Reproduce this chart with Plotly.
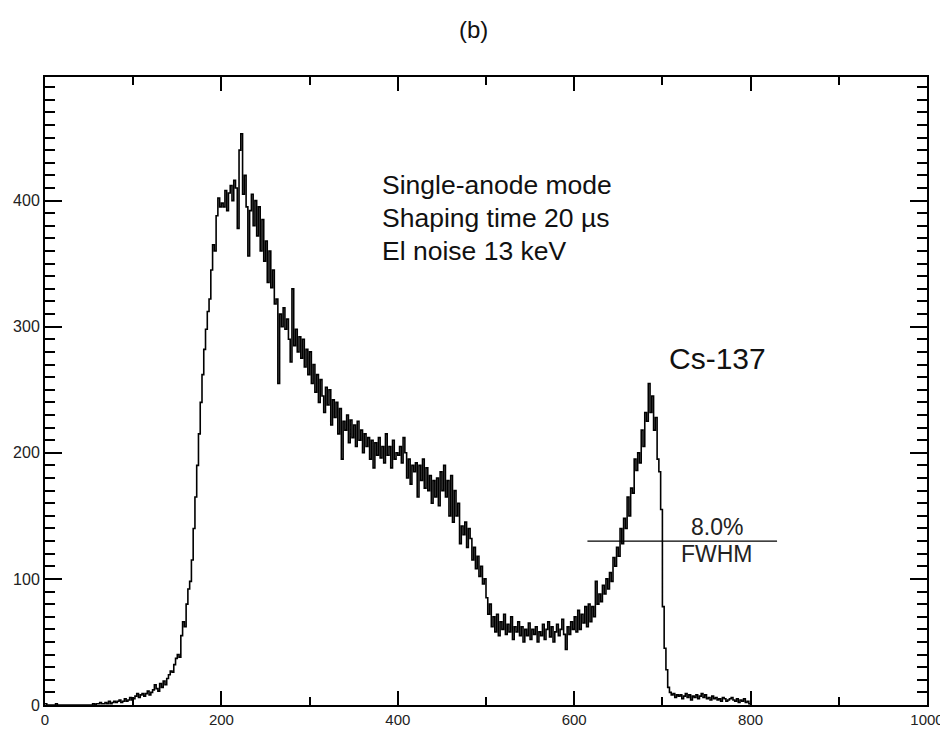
import plotly.graph_objects as go

# Bin left edges (channel), bin width 2
bin_start = 0
bin_width = 2
counts = [
    1, 0, 0, 0, 0, 0, 1, 0, 0, 0,            # 0-18
    0, 0, 0, 0, 0, 0, 0, 0, 0, 0,            # 20-38
    0, 0, 0, 0, 0, 0, 0, 1, 0, 1,            # 40-58
    1, 2, 1, 1, 2, 1, 3, 1, 2, 3,            # 60-78
    2, 3, 4, 2, 3, 5, 3, 4, 6, 4,            # 80-98
    5, 7, 9, 6, 8, 9, 7, 9, 11, 8,           # 100-118
    10, 12, 16, 13, 11, 17, 14, 19, 16, 21,  # 120-138
    24, 27, 26, 32, 37, 40, 38, 55, 66, 62,  # 140-158
    80, 92, 98, 115, 140, 165, 190, 215, 240, 262,   # 160-178
    282, 298, 312, 322, 345, 365, 360, 388, 402, 395,  # 180-198
    398, 395, 408, 392, 406, 412, 400, 416, 410, 378,  # 200-218
    440, 453, 405, 420, 395, 356, 392, 405, 380, 400,  # 220-238
    372, 395, 360, 385, 352, 368, 335, 360, 331, 345,  # 240-258
    318, 322, 255, 310, 300, 315, 298, 306, 290, 272,  # 260-278
    330, 285, 298, 280, 292, 275, 290, 268, 282, 262,  # 280-298
    280, 255, 270, 248, 262, 240, 258, 245, 232, 252,  # 300-318
    238, 250, 222, 242, 228, 240, 215, 235, 195, 225,  # 320-338
    218, 230, 208, 226, 212, 222, 205, 225, 210, 218,  # 340-358
    200, 215, 205, 212, 195, 210, 188, 208, 198, 212,  # 360-378
    196, 205, 192, 215, 198, 205, 188, 210, 195, 200,  # 380-398
    198, 205, 192, 212, 200, 180, 195, 175, 190, 185,  # 400-418
    192, 165, 190, 178, 195, 172, 188, 170, 182, 160,  # 420-438
    178, 165, 180, 158, 185, 170, 190, 165, 178, 150,  # 440-458
    182, 145, 170, 150, 160, 128, 142, 135, 145, 125,  # 460-478
    140, 132, 115, 125, 108, 118, 102, 110, 96, 100,   # 480-498
    85, 72, 80, 62, 70, 58, 72, 55, 66, 60,            # 500-518
    72, 56, 64, 58, 70, 52, 62, 58, 66, 55,            # 520-538
    62, 50, 60, 55, 65, 52, 60, 56, 62, 50,            # 540-558
    58, 55, 64, 52, 60, 66, 54, 62, 50, 58,            # 560-578
    64, 55, 60, 68, 56, 44, 62, 56, 66, 60,            # 580-598
    70, 58, 75, 60, 72, 65, 78, 62, 80, 66,            # 600-618
    78, 70, 98, 80, 88, 82, 95, 88, 100, 92,           # 620-638
    105, 98, 117, 110, 125, 118, 140, 128, 148, 140,   # 640-658
    165, 150, 172, 168, 195, 186, 200, 192, 218, 205,  # 660-678
    232, 225, 255, 232, 245, 218, 228, 195, 185, 155,  # 680-698
    78, 45, 28, 14, 10, 8, 9, 6, 8, 7,                 # 700-718
    8, 5, 7, 9, 6, 8, 4, 7, 6, 8,                      # 720-738
    5, 7, 9, 6, 8, 5, 6, 4, 7, 5,                      # 740-758
    6, 4, 5, 3, 6, 5, 3, 4, 5, 6,                      # 760-778
    4, 3, 5, 2, 4, 3, 5, 2, 3, 1,                      # 780-798
    0,                                                  # 800
]
channels = [bin_start + i * bin_width for i in range(len(counts))]

x_ticks = [0, 200, 400, 600, 800, 1000]
y_ticks = [0, 100, 200, 300, 400]

fwhm_x = [615, 830]
fwhm_y = [130, 130]

info_lines = ["Single-anode mode", "Shaping time 20 \u00b5s", "El noise 13 keV"]
info_y = [412, 386, 360]

FONT = "Liberation Sans, Arial, sans-serif"

fig = go.Figure()
fig.add_trace(go.Scatter(
    x=channels, y=counts, mode="lines", line_shape="hv",
    line=dict(color="black", width=1.6), showlegend=False, hoverinfo="skip",
))
fig.add_trace(go.Scatter(
    x=fwhm_x, y=fwhm_y, mode="lines",
    line=dict(color="black", width=1.2), showlegend=False, hoverinfo="skip",
))

for txt, yy in zip(info_lines, info_y):
    fig.add_annotation(x=380, y=yy, text=txt, showarrow=False, xanchor="left",
                       yanchor="middle", font=dict(family=FONT, size=26.5, color="#111"))

fig.add_annotation(x=705, y=275, text="Cs-137", showarrow=False, xanchor="left",
                   yanchor="middle", font=dict(family=FONT, size=30, color="#111"))
fig.add_annotation(x=762, y=141, text="8.0%", showarrow=False, xanchor="center",
                   yanchor="middle", font=dict(family=FONT, size=23, color="#222"))
fig.add_annotation(x=762, y=120, text="FWHM", showarrow=False, xanchor="center",
                   yanchor="middle", font=dict(family=FONT, size=23, color="#222"))
fig.add_annotation(x=0.486, y=1.075, xref="paper", yref="paper", text="(b)",
                   showarrow=False, xanchor="center", yanchor="middle",
                   font=dict(family=FONT, size=24, color="#111"))

fig.update_xaxes(
    range=[0, 1000], tickvals=x_ticks, ticktext=[str(v) for v in x_ticks],
    ticks="inside", ticklen=14, tickwidth=1.5, tickcolor="black",
    minor=dict(dtick=100, ticks="inside", ticklen=8, tickwidth=1.5, tickcolor="black", showgrid=False),
    showline=True, linecolor="black", linewidth=2, mirror="ticks",
    showgrid=False, zeroline=False, automargin=False, ticklabeloverflow="allow",
    tickfont=dict(family=FONT, size=15, color="#222"),
)
fig.update_yaxes(
    range=[0, 498], tickvals=y_ticks, ticktext=[str(v) for v in y_ticks],
    ticks="inside", ticklen=17, tickwidth=1.5, tickcolor="black",
    minor=dict(dtick=10, ticks="inside", ticklen=10, tickwidth=1.5, tickcolor="black", showgrid=False),
    showline=True, linecolor="black", linewidth=2, mirror="ticks",
    showgrid=False, zeroline=False, automargin=False,
    tickfont=dict(family=FONT, size=16, color="#222"),
)

# page body has an 8px margin: figure is offset by 8px, so margins compensate
fig.update_layout(
    width=940, height=724,
    margin=dict(l=37, r=21, t=69, b=27),
    paper_bgcolor="white", plot_bgcolor="white",
    showlegend=False,
)

fig.write_html("out.html")
